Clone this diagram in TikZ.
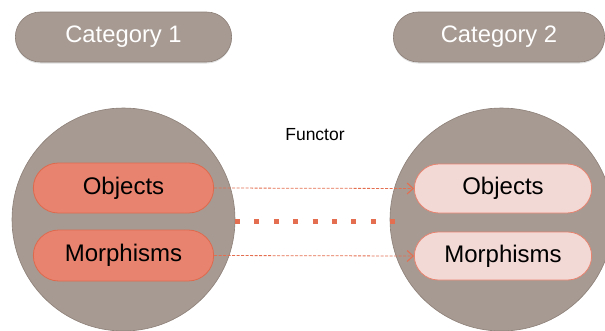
\documentclass[tikz,border=0pt]{standalone}
\usepackage{fontspec}
\setmainfont{Liberation Sans}
\usetikzlibrary{shadows,arrows.meta,shapes.misc}
\definecolor{taupe}{HTML}{A79A92}
\definecolor{taupeline}{HTML}{8C7F78}
\definecolor{salmon}{HTML}{E8836F}
\definecolor{salmonline}{HTML}{DE6A4E}
\definecolor{blush}{HTML}{F3D9D5}
\definecolor{arrowc}{HTML}{E46E50}
\tikzset{
  x=1pt, y=-1pt,
  pill/.style={rounded rectangle, fill=taupe, draw=taupeline, line width=0.6pt,
    minimum height=50pt, text=white, font=\fontsize{23.8}{28}\selectfont,
    drop shadow={opacity=0.25, shadow xshift=0pt, shadow yshift=-1.5pt}},
  catdisk/.style={circle, fill=taupe, draw=taupeline, line width=0.6pt,
    minimum size=223pt, inner sep=0pt},
  srcbox/.style={rounded rectangle, fill=salmon, draw=salmonline, line width=0.8pt,
    minimum height=50pt, font=\fontsize{24}{28}\selectfont},
  dstbox/.style={rounded rectangle, fill=blush, draw=salmon, line width=0.8pt,
    minimum height=49pt, font=\fontsize{24}{28}\selectfont},
  maparrow/.style={draw=arrowc, line width=0.8pt, dash pattern=on 3pt off 1.5pt,
    -{Straight Barb[length=6pt,width=11pt,line width=1.1pt]}},
  squaredots/.style={draw=arrowc, line width=5pt, dash pattern=on 5pt off 14.4pt}
}
\begin{document}
\begin{tikzpicture}
\useasboundingbox (0,0) rectangle (605,330);
% the two categories
\node[catdisk] (c1) at (123.5,219.5) {};
\node[catdisk] (c2) at (501.5,219.5) {};
% headers
\node[pill, minimum width=223pt] (h1) at (123.5,37) {Category 1};
\node[pill, minimum width=218pt] (h2) at (499,37) {Category 2};
% functor label
\node[font=\fontsize{17.5}{20}\selectfont] (fn) at (315,134.5) {Functor};
% functor as a whole
\coordinate (d1) at (235,221);
\coordinate (d2) at (395,221);
\draw[squaredots] (d1) -- (d2);
% contents of each category
\node[srcbox, minimum width=187pt] (o1) at (123.5,188) {Objects};
\node[srcbox, minimum width=187pt, minimum height=51pt] (m1) at (123.5,255.5) {Morphisms};
\node[dstbox, minimum width=184pt] (o2) at (503,188.5) {Objects};
\node[dstbox, minimum width=184pt, minimum height=48pt] (m2) at (503,256) {Morphisms};
% mappings
\draw[maparrow] (o1.east) -- (o2.west);
\draw[maparrow] (m1.east) -- (m2.west);
\end{tikzpicture}
\end{document}
